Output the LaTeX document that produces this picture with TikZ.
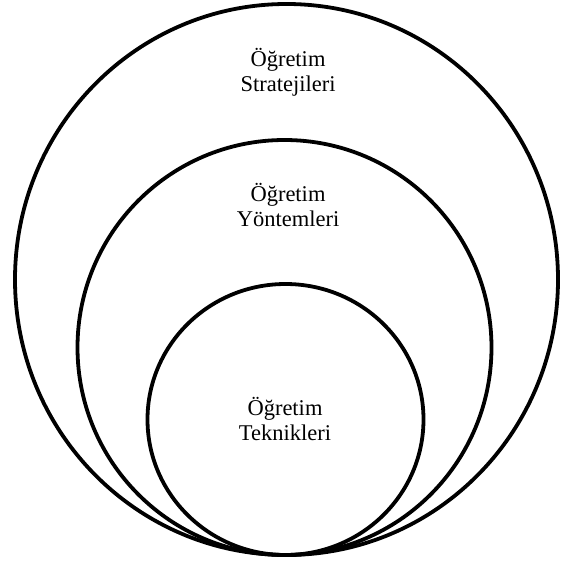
\documentclass[tikz,border=0pt]{standalone}
\usepackage{fontspec}
\setmainfont{Liberation Serif}
\tikzset{
  ring/.style={draw=black, line width=3.8pt},
  lbl/.style={align=center, inner sep=0pt, font=\fontsize{22.5}{25}\selectfont}
}
\begin{document}
\begin{tikzpicture}[x=1pt,y=-1pt]
\useasboundingbox (0,0) rectangle (560,564);
\draw[ring] (286.5,279.5) ellipse [x radius=271.5, y radius=275.5];
\draw[ring] (284.5,347.5) ellipse [x radius=207, y radius=207.5];
\draw[ring] (285.5,419.5) ellipse [x radius=138, y radius=135.5];
\node[lbl] (strat) at (288,72) {Öğretim\\Stratejileri};
\node[lbl] (yontem) at (288,205) {Öğretim\\Yöntemleri};
\node[lbl] (teknik) at (285,419) {Öğretim\\Teknikleri};
\end{tikzpicture}
\end{document}
